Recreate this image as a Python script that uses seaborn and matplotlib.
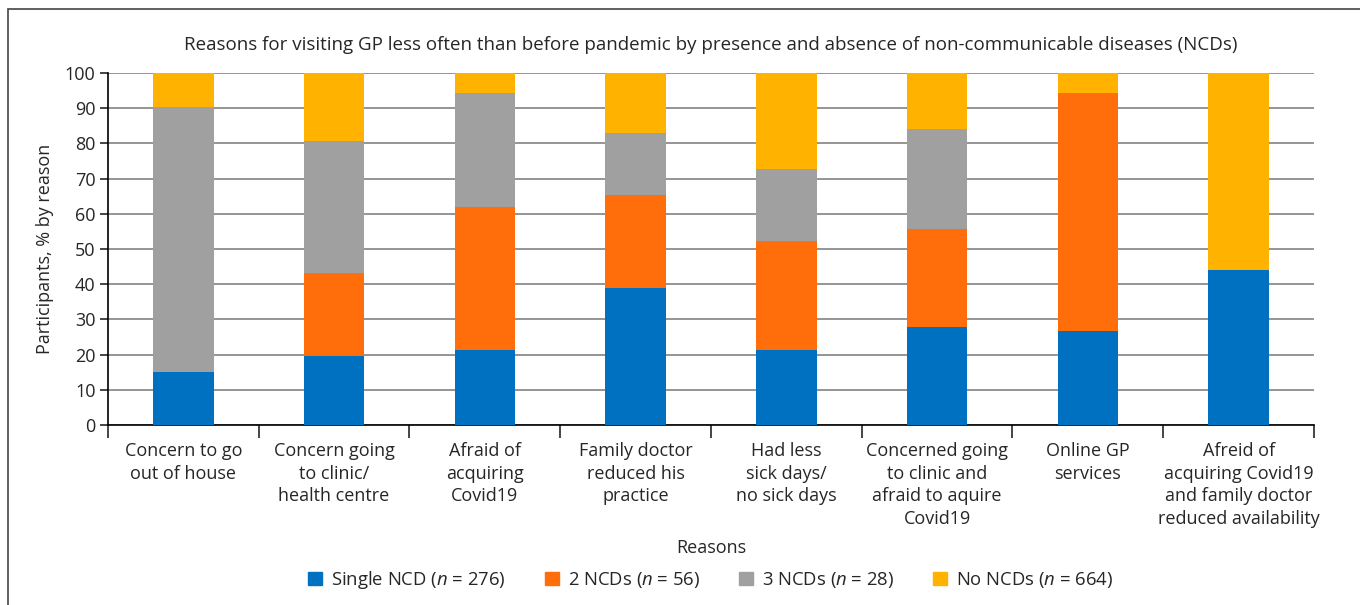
import matplotlib
matplotlib.use("Agg")
import matplotlib.pyplot as plt
import matplotlib.patches as mpatches
import seaborn as sns
import numpy as np
import pandas as pd

# Dados (% por motivo)
motivos = [
    "Concern to go\nout of house",
    "Concern going\nto clinic/\nhealth centre",
    "Afraid of\nacquiring\nCovid19",
    "Family doctor\nreduced his\npractice",
    "Had less\nsick days/\nno sick days",
    "Concerned going\nto clinic and\nafraid to aquire\nCovid19",
    "Online GP\nservices",
    "Afreid of\nacquiring Covid19\nand family doctor\nreduced availability",
]
single_ncd = [15.1, 19.6, 21.3, 39.0, 21.3, 27.7, 26.7, 44.1]
two_ncds = [0.0, 23.6, 40.7, 26.4, 31.0, 28.0, 67.7, 0.0]
three_ncds = [75.2, 37.6, 32.4, 17.6, 20.5, 28.5, 0.0, 0.0]
no_ncds = [9.7, 19.2, 5.6, 17.0, 27.2, 15.8, 5.6, 55.9]

series_names = ["Single NCD (n = 276)", "2 NCDs (n = 56)", "3 NCDs (n = 28)", "No NCDs (n = 664)"]
legend_labels = [r"Single NCD ($\it{n}$ = 276)", r"2 NCDs ($\it{n}$ = 56)",
                 r"3 NCDs ($\it{n}$ = 28)", r"No NCDs ($\it{n}$ = 664)"]
cores = ["#0070C0", "#FF6E0A", "#A0A0A0", "#FFB300"]

sns.set_style("white")
plt.rcParams['font.family'] = ['Open Sans', 'DejaVu Sans']
plt.rcParams['mathtext.fontset'] = 'custom'
plt.rcParams['mathtext.it'] = 'Open Sans:italic'
plt.rcParams['mathtext.rm'] = 'Open Sans'

fig = plt.figure(figsize=(13.6, 6.05), dpi=100)
ax = fig.add_axes([108 / 1360, 1 - 425 / 605, 1206 / 1360, 352 / 605])

# moldura externa
fig.patches.append(mpatches.Rectangle((8 / 1360, -0.01), 1.1, 1 - 9 / 605 + 0.01,
                                      transform=fig.transFigure, fill=False,
                                      edgecolor="#444444", linewidth=1.2))

base = np.zeros(len(motivos))
for nome, valores, cor in zip(series_names, [single_ncd, two_ncds, three_ncds, no_ncds], cores):
    df = pd.DataFrame({"Reason": motivos, "Value": valores})
    sns.barplot(data=df, x="Reason", y="Value", color=cor, width=0.4,
                bottom=base, ax=ax, zorder=3, linewidth=0, saturation=1)
    base = base + np.array(valores)

ax.set_xlim(-0.5, len(motivos) - 0.5)
ax.set_ylim(0, 100)
ax.set_yticks(range(0, 101, 10))
ax.yaxis.grid(True, color="#8c8c8c", linewidth=1.3, zorder=0)
ax.xaxis.grid(False)
for s in ["top", "right"]:
    ax.spines[s].set_visible(False)
ax.spines["left"].set_color("black")
ax.spines["bottom"].set_color("black")
ax.spines["left"].set_linewidth(1.2)
ax.spines["bottom"].set_linewidth(1.2)

ax.tick_params(axis="y", which="major", left=True, length=6, width=1.2, labelsize=13, pad=3)
ax.tick_params(axis="x", which="major", bottom=False, labelsize=13, pad=9)
ax.set_xticks(np.arange(-0.5, len(motivos)), minor=True)
ax.tick_params(axis="x", which="minor", bottom=True, length=9, width=1.2)
for lbl in ax.get_xticklabels():
    lbl.set_linespacing(1.32)
    lbl.set_verticalalignment("top")

ax.set_xlabel("Reasons", fontsize=13, va="center")
ax.xaxis.set_label_coords(0.5, -(548 - 425) / 352)
ax.set_ylabel("Participants, % by reason", fontsize=13, labelpad=8)
fig.text(711 / 1360, 1 - 45 / 605,
         "Reasons for visiting GP less often than before pandemic by presence and absence of non-communicable diseases (NCDs)",
         ha="center", va="center", fontsize=13.5)

handles = [mpatches.Patch(color=c) for c in cores]
fig.legend(handles, legend_labels, loc="center", bbox_to_anchor=(711 / 1360, 1 - 580 / 605),
           ncol=4, frameon=False, fontsize=13.3, handlelength=0.75, handleheight=0.75,
           handletextpad=0.5, columnspacing=2.1)

plt.savefig("out.png", dpi=100)
plt.close()
